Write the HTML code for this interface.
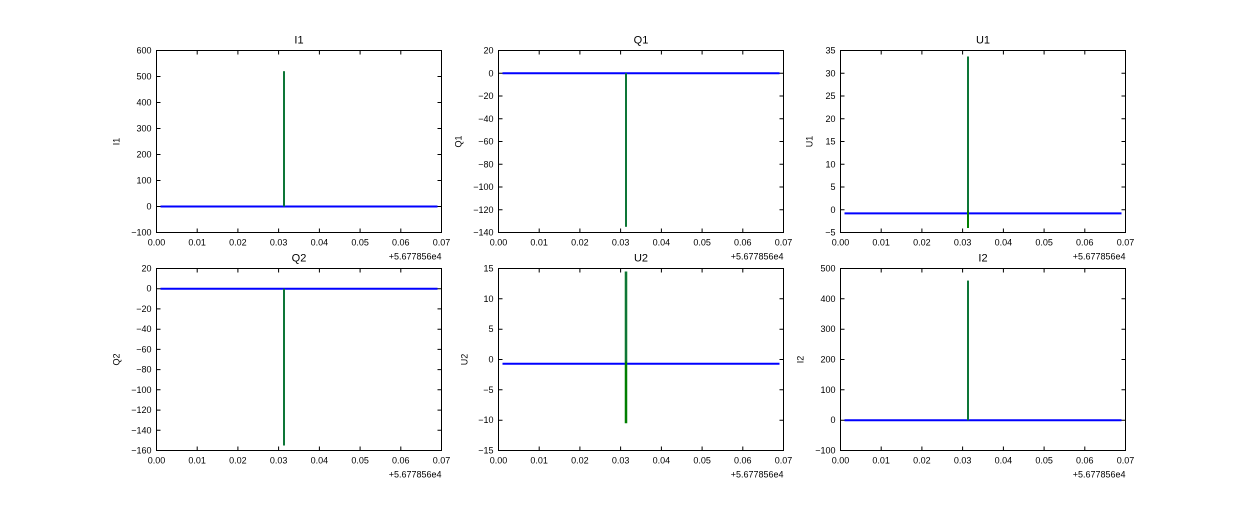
<!DOCTYPE html>
<html><head><meta charset="utf-8"><style>
body{margin:0;background:#fff;}
svg text{font-family:"Liberation Sans",sans-serif;font-size:9px;fill:#000;}
.t{font-size:11px;}
</style></head><body>
<svg width="1250" height="500" xmlns="http://www.w3.org/2000/svg">
<defs>
<g id="xt">
<path d="M0,0v4M40.7,0v4M81.4,0v4M122.1,0v4M162.9,0v4M203.6,0v4M244.3,0v4M285,0v4M0,182v-4M40.7,182v-4M81.4,182v-4M122.1,182v-4M162.9,182v-4M203.6,182v-4M244.3,182v-4M285,182v-4" stroke="#000" stroke-width="1"/>
<g text-anchor="middle">
<text x="0" y="195">0.00</text><text x="40.7" y="195">0.01</text><text x="81.4" y="195">0.02</text><text x="122.1" y="195">0.03</text><text x="162.9" y="195">0.04</text><text x="203.6" y="195">0.05</text><text x="244.3" y="195">0.06</text><text x="285" y="195">0.07</text>
</g>
<text x="285" y="209" text-anchor="end">+5.677856e4</text>
</g>
</defs>

<!-- I1 -->
<g transform="translate(156.5,50.5)">
<line x1="4" x2="281" y1="156" y2="156" stroke="#0000ff" stroke-width="2"/>
<line x1="127.5" x2="127.5" y1="20.8" y2="156" stroke="#007f00" stroke-width="2"/>
<line x1="127.5" x2="127.5" y1="20.8" y2="156" stroke="#1a6e6e" stroke-width="1"/>
<rect width="285" height="182" fill="none" stroke="#000"/>
<use href="#xt"/>
<path d="M0,0h4M0,26h4M0,52h4M0,78h4M0,104h4M0,130h4M0,156h4M285,0h-4M285,26h-4M285,52h-4M285,78h-4M285,104h-4M285,130h-4M285,156h-4" stroke="#000"/>
<g text-anchor="end"><text x="-5" y="3">600</text><text x="-5" y="29">500</text><text x="-5" y="55">400</text><text x="-5" y="81">300</text><text x="-5" y="107">200</text><text x="-5" y="133">100</text><text x="-5" y="159">0</text><text x="-5" y="185">−100</text></g>
<text class="t" x="142.5" y="-7" text-anchor="middle">I1</text>
<text transform="translate(-37,91) rotate(-90)" text-anchor="middle">I1</text>
</g>

<!-- Q1 -->
<g transform="translate(498.5,50.5)">
<line x1="4" x2="281" y1="22.75" y2="22.75" stroke="#0000ff" stroke-width="2"/>
<line x1="127.5" x2="127.5" y1="22.75" y2="176.3" stroke="#007f00" stroke-width="2"/>
<line x1="127.5" x2="127.5" y1="22.75" y2="176.3" stroke="#1a6e6e" stroke-width="1"/>
<rect width="285" height="182" fill="none" stroke="#000"/>
<use href="#xt"/>
<path d="M0,22.75h4M0,45.5h4M0,68.25h4M0,91h4M0,113.75h4M0,136.5h4M0,159.25h4M285,22.75h-4M285,45.5h-4M285,68.25h-4M285,91h-4M285,113.75h-4M285,136.5h-4M285,159.25h-4" stroke="#000"/>
<g text-anchor="end"><text x="-5" y="3">20</text><text x="-5" y="25.75">0</text><text x="-5" y="48.5">−20</text><text x="-5" y="71.25">−40</text><text x="-5" y="94">−60</text><text x="-5" y="116.75">−80</text><text x="-5" y="139.5">−100</text><text x="-5" y="162.25">−120</text><text x="-5" y="185">−140</text></g>
<text class="t" x="142.5" y="-7" text-anchor="middle">Q1</text>
<text transform="translate(-37,91) rotate(-90)" text-anchor="middle">Q1</text>
</g>

<!-- U1 -->
<g transform="translate(840.5,50.5)">
<line x1="4" x2="281" y1="162.9" y2="162.9" stroke="#0000ff" stroke-width="2"/>
<line x1="127.5" x2="127.5" y1="6" y2="177.5" stroke="#007f00" stroke-width="2"/>
<line x1="127.5" x2="127.5" y1="6" y2="160" stroke="#1a6e6e" stroke-width="1"/>
<rect width="285" height="182" fill="none" stroke="#000"/>
<use href="#xt"/>
<path d="M0,22.75h4M0,45.5h4M0,68.25h4M0,91h4M0,113.75h4M0,136.5h4M0,159.25h4M285,22.75h-4M285,45.5h-4M285,68.25h-4M285,91h-4M285,113.75h-4M285,136.5h-4M285,159.25h-4" stroke="#000"/>
<g text-anchor="end"><text x="-5" y="3">35</text><text x="-5" y="25.75">30</text><text x="-5" y="48.5">25</text><text x="-5" y="71.25">20</text><text x="-5" y="94">15</text><text x="-5" y="116.75">10</text><text x="-5" y="139.5">5</text><text x="-5" y="162.25">0</text><text x="-5" y="185">−5</text></g>
<text class="t" x="142.5" y="-7" text-anchor="middle">U1</text>
<text transform="translate(-28,91) rotate(-90)" text-anchor="middle">U1</text>
</g>

<!-- Q2 -->
<g transform="translate(156.5,268.5)">
<line x1="4" x2="281" y1="20.2" y2="20.2" stroke="#0000ff" stroke-width="2"/>
<line x1="127.5" x2="127.5" y1="20.2" y2="177" stroke="#007f00" stroke-width="2"/>
<line x1="127.5" x2="127.5" y1="20.2" y2="177" stroke="#1a6e6e" stroke-width="1"/>
<rect width="285" height="182" fill="none" stroke="#000"/>
<use href="#xt"/>
<path d="M0,20.2h4M0,40.4h4M0,60.7h4M0,80.9h4M0,101.1h4M0,121.3h4M0,141.6h4M0,161.8h4M285,20.2h-4M285,40.4h-4M285,60.7h-4M285,80.9h-4M285,101.1h-4M285,121.3h-4M285,141.6h-4M285,161.8h-4" stroke="#000"/>
<g text-anchor="end"><text x="-5" y="3">20</text><text x="-5" y="23.2">0</text><text x="-5" y="43.4">−20</text><text x="-5" y="63.7">−40</text><text x="-5" y="83.9">−60</text><text x="-5" y="104.1">−80</text><text x="-5" y="124.3">−100</text><text x="-5" y="144.6">−120</text><text x="-5" y="164.8">−140</text><text x="-5" y="185">−160</text></g>
<text class="t" x="142.5" y="-7" text-anchor="middle">Q2</text>
<text transform="translate(-37,91) rotate(-90)" text-anchor="middle">Q2</text>
</g>

<!-- U2 -->
<g transform="translate(498.5,268.5)">
<line x1="4" x2="281" y1="95.2" y2="95.2" stroke="#0000ff" stroke-width="2"/>
<line x1="127.5" x2="127.5" y1="3" y2="154.7" stroke="#007f00" stroke-width="2.5"/>
<line x1="127.5" x2="127.5" y1="3" y2="93" stroke="#1a6e6e" stroke-width="1"/>
<rect width="285" height="182" fill="none" stroke="#000"/>
<use href="#xt"/>
<path d="M0,30.3h4M0,60.7h4M0,91h4M0,121.3h4M0,151.7h4M285,30.3h-4M285,60.7h-4M285,91h-4M285,121.3h-4M285,151.7h-4" stroke="#000"/>
<g text-anchor="end"><text x="-5" y="3">15</text><text x="-5" y="33.3">10</text><text x="-5" y="63.7">5</text><text x="-5" y="94">0</text><text x="-5" y="124.3">−5</text><text x="-5" y="154.7">−10</text><text x="-5" y="185">−15</text></g>
<text class="t" x="142.5" y="-7" text-anchor="middle">U2</text>
<text transform="translate(-31,91) rotate(-90)" text-anchor="middle">U2</text>
</g>

<!-- I2 -->
<g transform="translate(840.5,268.5)">
<line x1="4" x2="281" y1="151.7" y2="151.7" stroke="#0000ff" stroke-width="2"/>
<line x1="127.5" x2="127.5" y1="12.1" y2="151.7" stroke="#007f00" stroke-width="2"/>
<line x1="127.5" x2="127.5" y1="12.1" y2="151.7" stroke="#1a6e6e" stroke-width="1"/>
<rect width="285" height="182" fill="none" stroke="#000"/>
<use href="#xt"/>
<path d="M0,30.3h4M0,60.7h4M0,91h4M0,121.3h4M0,151.7h4M285,30.3h-4M285,60.7h-4M285,91h-4M285,121.3h-4M285,151.7h-4" stroke="#000"/>
<g text-anchor="end"><text x="-5" y="3">500</text><text x="-5" y="33.3">400</text><text x="-5" y="63.7">300</text><text x="-5" y="94">200</text><text x="-5" y="124.3">100</text><text x="-5" y="154.7">0</text><text x="-5" y="185">−100</text></g>
<text class="t" x="142.5" y="-7" text-anchor="middle">I2</text>
<text transform="translate(-37,91) rotate(-90)" text-anchor="middle">I2</text>
</g>
</svg>
</body></html>
